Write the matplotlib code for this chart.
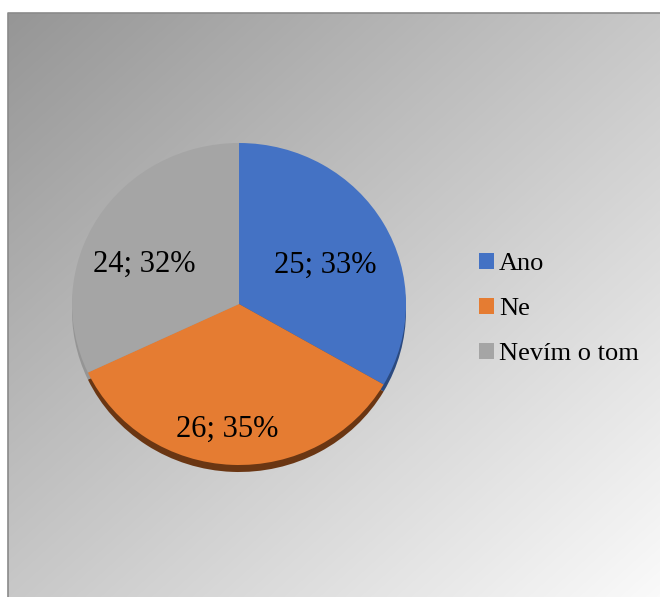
import numpy as np
import matplotlib
matplotlib.use("Agg")
import matplotlib.pyplot as plt
from matplotlib.patches import Patch
from matplotlib.colors import LinearSegmentedColormap

plt.rcParams["font.family"] = ["Liberation Serif", "DejaVu Serif"]

# odpovědi na otázku
categories = ["Ano", "Ne", "Nevím o tom"]
counts = [25, 26, 24]
colors = ["#4472C4", "#E57C32", "#A5A5A5"]
side_colors = ["#2B4A80", "#6A3613", "#959595"]

W, H = 660, 597
fig = plt.figure(figsize=(W / 100, H / 100), dpi=100)

# pozadí: šedý přechod zleva nahoře do bílé vpravo dole
bg = fig.add_axes([0, 0, 1, 1])
bg.set_xlim(0, W); bg.set_ylim(H, 0); bg.axis("off")
yy, xx = np.mgrid[0:H - 13, 0:W - 8]
u = (xx / (W - 8) + yy / (H - 13)) / 2
grad = LinearSegmentedColormap.from_list("g", ["#969696", "#fafafa"])
bg.imshow(u, cmap=grad, extent=(8, W, H, 13), aspect="auto", vmin=0, vmax=1)
bg.plot([8, 8, W], [H, 13, 13], color="#8a8a8a", lw=1.2)

# koláč (mírně zploštělý, s tmavým okrajem dole)
face_top, face_bot = 143, 465
left, right = 72, 406
ax = fig.add_axes([left / W, (H - face_bot) / H, (right - left) / W, (face_bot - face_top) / H])
depth = 7 / ((face_bot - face_top) / 2)
side, _ = ax.pie(counts, colors=side_colors, startangle=90, counterclock=False,
                 center=(0, -depth), wedgeprops=dict(linewidth=0))
wedges, _ = ax.pie(counts, colors=colors, startangle=90, counterclock=False,
                   wedgeprops=dict(linewidth=0))
for w in side + wedges:
    w.set_clip_on(False)
ax.set_aspect("auto")
ax.set_xlim(-1, 1); ax.set_ylim(-1, 1)
ax.axis("off")

total = sum(counts)
label_r = [0.57, 0.78, 0.62]
label_shift = [-5, -3, 9]
for w, v, r, s in zip(wedges, counts, label_r, label_shift):
    a = np.deg2rad((w.theta1 + w.theta2) / 2 + s)
    ax.text(r * np.cos(a), r * np.sin(a), f"{v}; {round(100 * v / total)}%",
            ha="center", va="center", fontsize=22, color="black")

handles = [Patch(facecolor=c, edgecolor="none") for c in colors]
fig.legend(handles, categories, loc="center left",
           bbox_to_anchor=(479 / W, 1 - 309 / H), frameon=False,
           fontsize=19, handlelength=0.55, handleheight=0.55,
           handletextpad=0.2, labelspacing=0.87, borderaxespad=0,
           borderpad=0)

fig.savefig("out.png", dpi=100)
